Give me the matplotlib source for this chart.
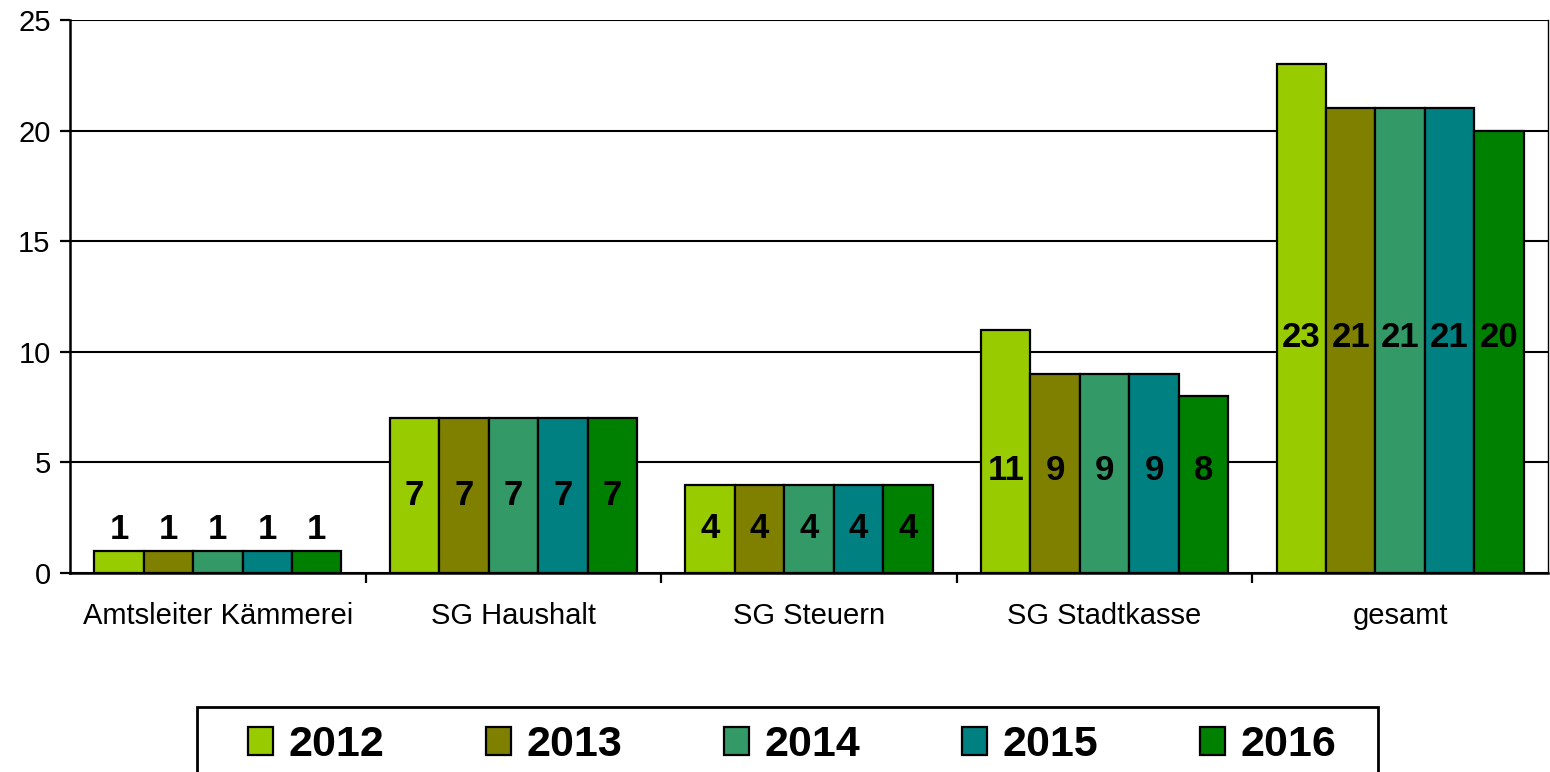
import matplotlib
matplotlib.use("Agg")
import matplotlib.pyplot as plt
from matplotlib.patches import Rectangle
import numpy as np

categories = ["Amtsleiter Kämmerei", "SG Haushalt", "SG Steuern", "SG Stadtkasse", "gesamt"]
years = ["2012", "2013", "2014", "2015", "2016"]
v2012 = [1, 7, 4, 11, 23]
v2013 = [1, 7, 4, 9, 21]
v2014 = [1, 7, 4, 9, 21]
v2015 = [1, 7, 4, 9, 21]
v2016 = [1, 7, 4, 8, 20]
series = [v2012, v2013, v2014, v2015, v2016]
colors = ["#99CC00", "#808000", "#339966", "#008080", "#008000"]

# label placement per category: "above" bar, "center" of bar, or a fixed y value
label_pos = ["above", "center", "center", 4.65, 10.65]

plt.rcParams["font.family"] = ["Liberation Sans", "DejaVu Sans"]

fig = plt.figure(figsize=(15.5, 7.72), dpi=100)
ax = fig.add_axes([70 / 1550, 1 - 573 / 772, (1548 - 70) / 1550, (573 - 20) / 772])

x = np.arange(len(categories))
w = 0.1672
for j, (vals, col, yr) in enumerate(zip(series, colors, years)):
    xs = x + (j - 2) * w
    ax.bar(xs, vals, width=w, color=col, edgecolor="black", linewidth=1.6,
           label=yr, zorder=3)
    for xi, v, pos in zip(xs, vals, label_pos):
        if pos == "above":
            ax.text(xi, v + 0.2, str(v), ha="center", va="bottom",
                    fontsize=25, fontweight="bold", zorder=4)
        elif pos == "center":
            ax.text(xi, v / 2, str(v), ha="center", va="center",
                    fontsize=25, fontweight="bold", zorder=4)
        else:
            ax.text(xi, pos, str(v), ha="center", va="center",
                    fontsize=25, fontweight="bold", zorder=4)

ax.set_xlim(-0.5, len(categories) - 0.5)
ax.set_ylim(0, 25)
ax.set_yticks([0, 5, 10, 15, 20, 25])
ax.yaxis.grid(True, color="black", linewidth=1.5, zorder=0)
ax.set_axisbelow(True)

ax.set_xticks(x)
ax.set_xticklabels(categories, fontsize=21)
ax.set_xticks(np.arange(0.5, len(categories) - 0.5, 1), minor=True)
ax.tick_params(axis="x", which="major", length=0, pad=21)
ax.tick_params(axis="x", which="minor", length=7, width=1.6, direction="out")
ax.tick_params(axis="y", length=7, width=1.6, direction="out", labelsize=21, pad=7)

for s in ["left", "bottom"]:
    ax.spines[s].set_linewidth(1.8)
ax.spines["top"].set_visible(False)
ax.spines["right"].set_linewidth(1.0)

# legend frame (extends beyond the bottom edge, as in the reference)
frame = Rectangle((197 / 1550, -0.05), (1378 - 197) / 1550, 1 - 707 / 772 + 0.05,
                  transform=fig.transFigure, facecolor="white", edgecolor="black",
                  linewidth=2, zorder=1)
fig.patches.append(frame)

leg = fig.legend(loc="center",
                 bbox_to_anchor=(792 / 1550, 1 - 745 / 772),
                 ncol=5, frameon=False,
                 prop={"weight": "bold", "size": 31},
                 handlelength=0.585, handleheight=0.61, handletextpad=0.35,
                 borderpad=0, borderaxespad=0, columnspacing=2.37)
for h in leg.legend_handles:
    h.set_linewidth(1.6)

fig.savefig("out.png", dpi=100)
